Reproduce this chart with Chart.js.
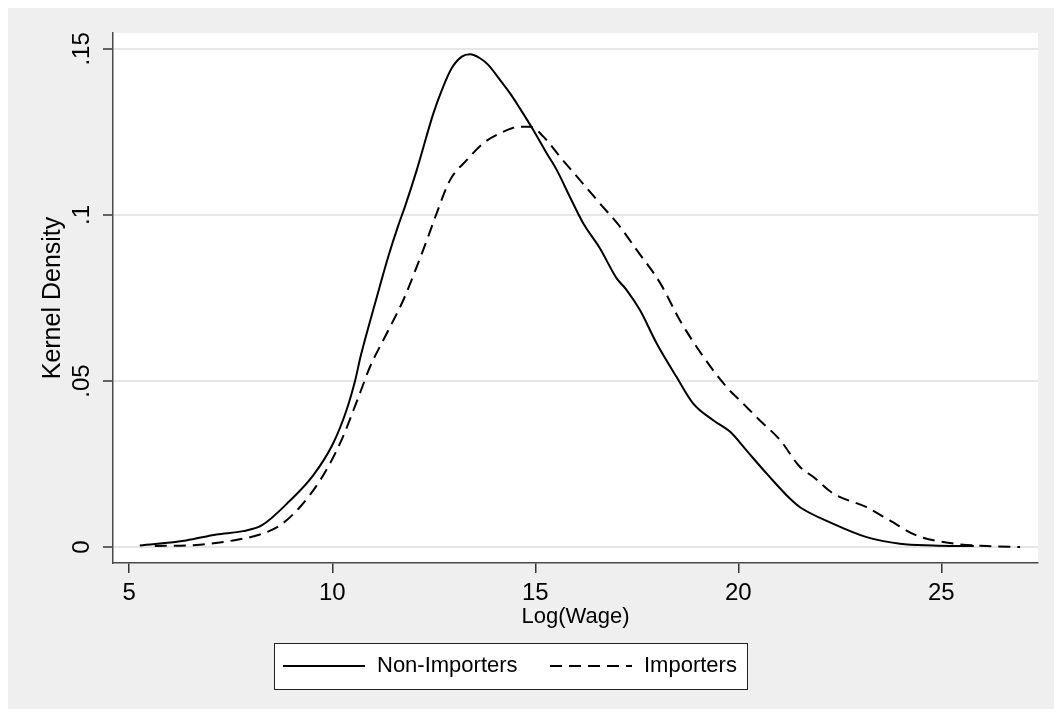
<!DOCTYPE html>
<html>
<head>
<meta charset="utf-8">
<title>Kernel Density of Log(Wage)</title>
<script src="https://cdn.jsdelivr.net/npm/chart.js@4.4.1/dist/chart.umd.min.js"></script>
<style>
  html, body { margin: 0; padding: 0; background: #ffffff; }
  #wrap { width: 1054px; height: 717px; position: relative; }
</style>
</head>
<body>
<div id="wrap"><canvas id="densityChart" width="1054" height="717"></canvas></div>
<script>
// Values
const nonImpX = [5.26, 6.4, 7.15, 7.8, 8.26, 8.96, 9.53, 10.02, 10.35, 10.56, 10.7, 10.93, 11.17, 11.38, 11.63, 11.79,
  12.08, 12.49, 12.73, 12.94, 13.19, 13.39, 13.64, 13.84, 14.13, 14.38, 14.62, 14.95, 15.28, 15.53, 15.85,
  16.18, 16.59, 17.0, 17.25, 17.58, 17.99, 18.48, 18.89, 19.38, 19.8, 20.2, 20.7, 21.27, 21.52, 22.34,
  23.16, 23.98, 24.8, 25.8];
const nonImpY = [0.0005, 0.002, 0.0038, 0.0048, 0.0065, 0.014, 0.0216, 0.0312, 0.0412, 0.05, 0.0575, 0.068, 0.0785, 0.0875, 0.097, 0.1025,
  0.1135, 0.1306, 0.1386, 0.1442, 0.1477, 0.1484, 0.1472, 0.1452, 0.1407, 0.1366, 0.1321, 0.1256, 0.1186, 0.1135, 0.1055,
  0.0975, 0.09, 0.081, 0.0774, 0.0713, 0.0613, 0.0512, 0.0432, 0.0382, 0.0347, 0.0291, 0.0221, 0.0146, 0.012, 0.007,
  0.003, 0.001, 0.0005, 0.0003];

const impX = [5.63, 6.74, 7.56, 8.22, 8.71, 9.2, 9.7, 10.19, 10.64, 10.93, 11.34, 11.75, 12.08, 12.36, 12.57, 12.9,
  13.31, 13.72, 14.13, 14.62, 14.87, 15.2, 15.61, 16.1, 16.59, 17.09, 17.5, 18.08, 18.56, 19.14, 19.71,
  20.12, 20.5, 21.03, 21.52, 21.85, 22.34, 23.16, 23.73, 24.39, 25.21, 26.12, 26.94];
const impY = [0.0003, 0.0007, 0.002, 0.0038, 0.0065, 0.012, 0.0201, 0.0312, 0.045, 0.0543, 0.0643, 0.0744, 0.0844, 0.0934, 0.1005, 0.1105,
  0.1165, 0.1216, 0.1246, 0.1266, 0.1266, 0.1236, 0.1175, 0.1105, 0.1035, 0.0964, 0.0894, 0.0794, 0.0683, 0.0573, 0.0482,
  0.0432, 0.0385, 0.0322, 0.0241, 0.0211, 0.0161, 0.012, 0.008, 0.0035, 0.0012, 0.0003, 0.0];

const seriesNames = ['Non-Importers', 'Importers'];
const xTicks = [5, 10, 15, 20, 25];
const yTicks = [0, 0.05, 0.1, 0.15];

const FONT = '"Liberation Sans", Arial, sans-serif';

// zip x/y arrays into point objects
function toPoints(xs, ys) {
  return xs.map((x, i) => ({ x: x, y: ys[i] }));
}

// Stata style label: .05 instead of 0.05
function stataLabel(v) {
  if (v === 0) return '0';
  return String(v).replace(/^0\./, '.');
}

/**
 * Gray outer region + white plot region
 */
const backgroundPlugin = {
  id: 'stataBackground',
  beforeDraw(chart) {
    const ctx = chart.ctx;
    const a = chart.chartArea;
    ctx.save();
    ctx.fillStyle = '#ffffff';
    ctx.fillRect(0, 0, chart.width, chart.height);
    ctx.fillStyle = '#efefef';
    ctx.fillRect(8, 8, chart.width - 8, 701);
    ctx.fillStyle = '#ffffff';
    ctx.fillRect(a.left, a.top, a.right - a.left, a.bottom - a.top);
    ctx.restore();
  }
};

/**
 * Boxed legend under the x axis title
 */
const boxLegendPlugin = {
  id: 'boxLegend',
  afterDraw(chart) {
    const ctx = chart.ctx;
    const box = { x: 274, y: 643, w: 473, h: 46 };
    const midY = box.y + box.h / 2;
    ctx.save();
    ctx.fillStyle = '#ffffff';
    ctx.fillRect(box.x, box.y, box.w, box.h);
    ctx.strokeStyle = '#222222';
    ctx.lineWidth = 1;
    ctx.strokeRect(box.x + 0.5, box.y + 0.5, box.w, box.h);

    const items = [
      { lineX: 283, textX: 377 },
      { lineX: 550, textX: 644 }
    ];
    ctx.font = '22px ' + FONT;
    ctx.textBaseline = 'middle';
    ctx.textAlign = 'left';
    chart.data.datasets.forEach((ds, i) => {
      const it = items[i];
      ctx.strokeStyle = ds.borderColor;
      ctx.lineWidth = ds.borderWidth;
      ctx.setLineDash(ds.borderDash || []);
      ctx.beginPath();
      ctx.moveTo(it.lineX, midY);
      ctx.lineTo(it.lineX + 82, midY);
      ctx.stroke();
      ctx.setLineDash([]);
      ctx.fillStyle = '#000000';
      ctx.fillText(ds.label, it.textX, midY);
    });
    ctx.restore();
  }
};

const ctx = document.getElementById('densityChart').getContext('2d');
const densityChart = new Chart(ctx, {
  type: 'line',
  data: {
    datasets: [
      {
        label: seriesNames[0],
        data: toPoints(nonImpX, nonImpY),
        borderColor: '#000000',
        borderWidth: 2,
        pointRadius: 0,
        cubicInterpolationMode: 'monotone',
        fill: false
      },
      {
        label: seriesNames[1],
        data: toPoints(impX, impY),
        borderColor: '#000000',
        borderWidth: 2,
        borderDash: [12, 7],
        pointRadius: 0,
        cubicInterpolationMode: 'monotone',
        fill: false
      }
    ]
  },
  options: {
    responsive: false,
    animation: false,
    devicePixelRatio: 1,
    layout: { padding: { left: 8, top: 33, right: 16, bottom: 87 } },
    plugins: {
      legend: { display: false },
      tooltip: { enabled: false }
    },
    scales: {
      x: {
        type: 'linear',
        min: 4.6,
        max: 27.38,
        afterBuildTicks: scale => { scale.ticks = xTicks.map(v => ({ value: v })); },
        afterFit: scale => { scale.height = 67; },
        ticks: {
          color: '#000000',
          padding: 6,
          maxRotation: 0,
          font: { family: FONT, size: 24 },
          callback: v => stataLabel(v)
        },
        grid: {
          drawOnChartArea: false,
          drawTicks: true,
          tickLength: 10,
          tickColor: '#333333',
          lineWidth: 1.5
        },
        border: { display: true, color: '#4a4a4a', width: 1.5 },
        title: {
          display: true,
          text: 'Log(Wage)',
          color: '#000000',
          font: { family: FONT, size: 22 },
          padding: { top: 0, bottom: 0 }
        }
      },
      y: {
        type: 'linear',
        min: -0.0048,
        max: 0.1548,
        afterBuildTicks: scale => { scale.ticks = yTicks.map(v => ({ value: v })); },
        afterFit: scale => { scale.width = 105; },
        ticks: {
          color: '#000000',
          padding: 4,
          minRotation: 90,
          maxRotation: 90,
          crossAlign: 'center',
          font: { family: FONT, size: 24 },
          callback: v => stataLabel(v)
        },
        grid: {
          color: '#e6e6e6',
          lineWidth: 2,
          drawTicks: true,
          tickLength: 10,
          tickColor: '#333333',
          tickWidth: 1.5
        },
        border: { display: true, color: '#4a4a4a', width: 1.5 },
        title: {
          display: true,
          text: 'Kernel Density',
          color: '#000000',
          font: { family: FONT, size: 25 },
          padding: { top: 30, bottom: 0 }
        }
      }
    }
  },
  plugins: [backgroundPlugin, boxLegendPlugin]
});
</script>
</body>
</html>
